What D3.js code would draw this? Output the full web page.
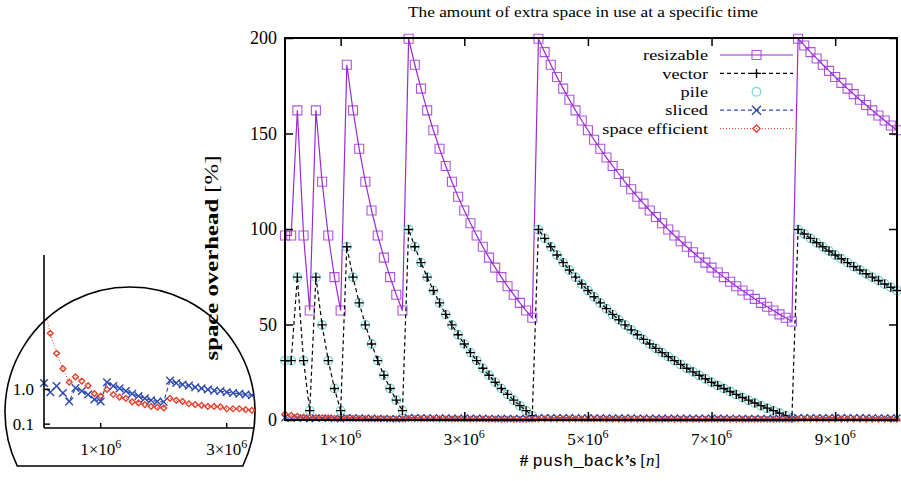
<!DOCTYPE html>
<html lang="en">
<head>
  <meta charset="UTF-8">
  <title>Space overhead</title>
  <style>
    * { margin: 0; padding: 0; box-sizing: border-box; }
    body { background: #fff; }
    svg { display: block; }
    svg text { font-family: "Liberation Serif", "Times New Roman", serif; fill: #000; }
  </style>
</head>
<body>
  <div id="chart"></div>

  <script src="https://d3js.org/d3.v7.min.js"></script>
  <script>
// number of push_back's, in millions (one sample every 100000)
const pushBacksM = [
  0.1, 0.2, 0.3, 0.4, 0.5, 0.6, 0.7, 0.8, 0.9, 1.0,
  1.1, 1.2, 1.3, 1.4, 1.5, 1.6, 1.7, 1.8, 1.9, 2.0,
  2.1, 2.2, 2.3, 2.4, 2.5, 2.6, 2.7, 2.8, 2.9, 3.0,
  3.1, 3.2, 3.3, 3.4, 3.5, 3.6, 3.7, 3.8, 3.9, 4.0,
  4.1, 4.2, 4.3, 4.4, 4.5, 4.6, 4.7, 4.8, 4.9, 5.0,
  5.1, 5.2, 5.3, 5.4, 5.5, 5.6, 5.7, 5.8, 5.9, 6.0,
  6.1, 6.2, 6.3, 6.4, 6.5, 6.6, 6.7, 6.8, 6.9, 7.0,
  7.1, 7.2, 7.3, 7.4, 7.5, 7.6, 7.7, 7.8, 7.9, 8.0,
  8.1, 8.2, 8.3, 8.4, 8.5, 8.6, 8.7, 8.8, 8.9, 9.0,
  9.1, 9.2, 9.3, 9.4, 9.5, 9.6, 9.7, 9.8, 9.9, 10.0
];

// space overhead [%]
const resizable = [
  96.6, 96.6, 162.1, 96.6, 57.3, 162.1, 124.7, 96.6, 74.8, 57.3,
  186.0, 162.1, 142.0, 124.7, 109.7, 96.6, 85.0, 74.8, 65.6, 57.3,
  199.6, 186.0, 173.5, 162.1, 151.7, 142.0, 133.0, 124.7, 116.9, 109.7,
  103.0, 96.6, 90.7, 85.0, 79.8, 74.8, 70.0, 65.6, 61.3, 57.3,
  53.5, 199.6, 192.6, 186.0, 179.6, 173.5, 167.7, 162.1, 156.8, 151.7,
  146.7, 142.0, 137.4, 133.0, 128.8, 124.7, 120.8, 116.9, 113.3, 109.7,
  106.3, 103.0, 99.7, 96.6, 93.6, 90.7, 87.8, 85.0, 82.4, 79.8,
  77.2, 74.8, 72.4, 70.0, 67.8, 65.6, 63.4, 61.3, 59.3, 57.3,
  55.3, 53.5, 51.6, 199.6, 196.1, 192.6, 189.3, 186.0, 182.8, 179.6,
  176.5, 173.5, 170.6, 167.7, 164.9, 162.1, 159.4, 156.8, 154.2, 151.7
];

const vector = [
  31.1, 31.1, 74.8, 31.1, 4.9, 74.8, 49.8, 31.1, 16.5, 4.9,
  90.7, 74.8, 61.3, 49.8, 39.8, 31.1, 23.4, 16.5, 10.4, 4.9,
  99.7, 90.7, 82.4, 74.8, 67.8, 61.3, 55.3, 49.8, 44.6, 39.8,
  35.3, 31.1, 27.1, 23.4, 19.8, 16.5, 13.4, 10.4, 7.5, 4.9,
  2.3, 99.7, 95.1, 90.7, 86.4, 82.4, 78.5, 74.8, 71.2, 67.8,
  64.5, 61.3, 58.3, 55.3, 52.5, 49.8, 47.2, 44.6, 42.2, 39.8,
  37.5, 35.3, 33.2, 31.1, 29.1, 27.1, 25.2, 23.4, 21.6, 19.8,
  18.1, 16.5, 14.9, 13.4, 11.8, 10.4, 8.9, 7.5, 6.2, 4.9,
  3.6, 2.3, 1.1, 99.7, 97.4, 95.1, 92.8, 90.7, 88.5, 86.4,
  84.4, 82.4, 80.4, 78.5, 76.6, 74.8, 73.0, 71.2, 69.5, 67.8
];

const pile = [
  31.1, 31.1, 74.8, 31.1, 4.9, 74.8, 49.8, 31.1, 16.5, 4.9,
  90.7, 74.8, 61.3, 49.8, 39.8, 31.1, 23.4, 16.5, 10.4, 4.9,
  99.7, 90.7, 82.4, 74.8, 67.8, 61.3, 55.3, 49.8, 44.6, 39.8,
  35.3, 31.1, 27.1, 23.4, 19.8, 16.5, 13.4, 10.4, 7.5, 4.9,
  2.3, 99.7, 95.1, 90.7, 86.4, 82.4, 78.5, 74.8, 71.2, 67.8,
  64.5, 61.3, 58.3, 55.3, 52.5, 49.8, 47.2, 44.6, 42.2, 39.8,
  37.5, 35.3, 33.2, 31.1, 29.1, 27.1, 25.2, 23.4, 21.6, 19.8,
  18.1, 16.5, 14.9, 13.4, 11.8, 10.4, 8.9, 7.5, 6.2, 4.9,
  3.6, 2.3, 1.1, 99.7, 97.4, 95.1, 92.8, 90.7, 88.5, 86.4,
  84.4, 82.4, 80.4, 78.5, 76.6, 74.8, 73.0, 71.2, 69.5, 67.8
];

const sliced = [
  1.17, 0.93, 1.09, 0.91, 0.69, 1.04, 0.96, 0.87, 0.74, 0.69,
  1.19, 1.09, 1.03, 0.96, 0.89, 0.83, 0.77, 0.72, 0.69, 0.68,
  1.23, 1.17, 1.13, 1.10, 1.06, 1.03, 1.00, 0.97, 0.96, 0.93,
  0.91, 0.89, 0.87, 0.85, 0.84, 0.82, 0.81, 0.79, 0.78, 0.77,
  0.75, 1.22, 1.20, 1.18, 1.16, 1.14, 1.12, 1.11, 1.09, 1.08,
  1.06, 1.05, 1.03, 1.02, 1.01, 1.00, 0.99, 0.98, 0.97, 0.96,
  0.95, 0.94, 0.93, 0.92, 0.91, 0.90, 0.90, 0.89, 0.88, 0.87,
  0.87, 0.86, 0.85, 0.85, 0.84, 0.83, 0.83, 0.82, 0.82, 0.81,
  0.81, 0.80, 0.80, 1.21, 1.20, 1.19, 1.18, 1.17, 1.16, 1.16,
  1.15, 1.14, 1.13, 1.13, 1.12, 1.11, 1.11, 1.10, 1.10, 1.09
];

const spaceEfficient = [
  3.20, 2.46, 1.94, 1.54, 1.19, 1.33, 1.22, 1.10, 0.89, 0.83,
  1.00, 0.87, 0.80, 0.77, 0.68, 0.65, 0.61, 0.56, 0.54, 0.52,
  0.77, 0.72, 0.69, 0.63, 0.61, 0.59, 0.56, 0.56, 0.55, 0.50,
  0.50, 0.50, 0.48, 0.46, 0.45, 0.44, 0.43, 0.43, 0.42, 0.41,
  0.40, 0.56, 0.55, 0.54, 0.53, 0.52, 0.51, 0.50, 0.50, 0.49,
  0.48, 0.48, 0.47, 0.46, 0.46, 0.45, 0.45, 0.44, 0.44, 0.43,
  0.43, 0.42, 0.42, 0.42, 0.41, 0.41, 0.40, 0.40, 0.40, 0.39,
  0.39, 0.39, 0.38, 0.38, 0.38, 0.37, 0.37, 0.37, 0.37, 0.36,
  0.36, 0.36, 0.36, 0.50, 0.49, 0.49, 0.48, 0.48, 0.47, 0.47,
  0.46, 0.46, 0.45, 0.45, 0.45, 0.44, 0.44, 0.44, 0.43, 0.43
];

const yTicks = [0, 50, 100, 150, 200];
const xTicksM = [1, 3, 5, 7, 9];
const insetYTicks = [0.1, 1.0];
const insetXTicksM = [1, 3];
const seriesNames = ["resizable", "vector", "pile", "sliced", "space efficient"];

var SERIF = "'Liberation Serif', 'Times New Roman', serif";
var W = 901, H = 481;
var plot = {left: 285, right: 897, top: 38, bottom: 420};

var svg = d3.select("#chart").append("svg")
  .attr("width", W)
  .attr("height", H)
  .attr("font-family", SERIF);

var x = d3.scaleLinear().domain([0.1, 10]).range([plot.left, plot.right]);
var y = d3.scaleLinear().domain([0, 200]).range([plot.bottom, plot.top]);

// series styles
var styles = {
  "resizable":       {color: "#9a2bd4", dash: null,  marker: "square"},
  "vector":          {color: "#000000", dash: "4,3", marker: "plus"},
  "pile":            {color: "#7fd6d6", dash: null,  marker: "circle", noLine: true},
  "sliced":          {color: "#2c48b0", dash: "4,3", marker: "cross"},
  "space efficient": {color: "#e8412c", dash: "1,2", marker: "diamond"}
};

function markerPath(type, s) {
  if (type == "square") return `M${-s},${-s}h${2*s}v${2*s}h${-2*s}Z`;
  if (type == "plus") return `M${-s},0H${s}M0,${-s}V${s}`;
  if (type == "cross") return `M${-s},${-s}L${s},${s}M${-s},${s}L${s},${-s}`;
  if (type == "diamond") return `M0,${-s}L${s},0L0,${s}L${-s},0Z`;
  return "";
}

function drawMarkers(g, pts, st, sx, sy, size) {
  if (st.marker == "circle") {
    g.selectAll(null).data(pts).enter().append("circle")
      .attr("cx", d => sx(d[0])).attr("cy", d => sy(d[1]))
      .attr("r", size)
      .attr("fill", "none").attr("stroke", st.color).attr("stroke-width", 1.3);
  } else {
    g.selectAll(null).data(pts).enter().append("path")
      .attr("transform", d => `translate(${sx(d[0])},${sy(d[1])})`)
      .attr("d", markerPath(st.marker, st.marker == "diamond" ? size * 0.8 : size))
      .attr("fill", "none").attr("stroke", st.color)
      .attr("stroke-width", st.marker == "square" ? 1.1 : 1.4)
      .attr("stroke-opacity", st.marker == "square" ? 0.8 : 1);
  }
}

function drawSeries(g, name, values, sx, sy, size) {
  var st = styles[name];
  var pts = pushBacksM.map((m, i) => [m, values[i]]);
  if (!st.noLine) {
    var line = d3.line().x(d => sx(d[0])).y(d => sy(d[1]));
    g.append("path")
      .datum(pts)
      .attr("d", line)
      .attr("fill", "none")
      .attr("stroke", st.color)
      .attr("stroke-width", name == "space efficient" ? 1 : 1.2)
      .attr("stroke-dasharray", st.dash);
  }
  drawMarkers(g, pts, st, sx, sy, size);
}

// ---- main plot data
var main = svg.append("g");
drawSeries(main, "resizable", resizable, x, y, 4.5);
drawSeries(main, "pile", pile, x, y, 4.3);
drawSeries(main, "vector", vector, x, y, 4.5);
drawSeries(main, "sliced", sliced, x, y, 3.5);
drawSeries(main, "space efficient", spaceEfficient, x, y, 3.5);

// ---- axes (gnuplot style: ticks inside on all 4 sides)
function styleAxis(g) {
  g.select(".domain").remove();
  g.selectAll(".tick line").attr("stroke", "#000").attr("stroke-width", 1.5);
  g.attr("font-family", SERIF).attr("font-size", null);
}

svg.append("g")
  .attr("transform", `translate(${plot.left},0)`)
  .call(d3.axisLeft(y).tickValues(yTicks).tickSize(-8).tickPadding(8))
  .call(styleAxis)
  .selectAll("text")
    .style("font-size", "18px")
    .attr("fill", "#000");

svg.append("g")
  .attr("transform", `translate(${plot.right},0)`)
  .call(d3.axisRight(y).tickValues(yTicks).tickSize(-8).tickFormat(""))
  .call(styleAxis);

svg.append("g")
  .attr("transform", `translate(0,${plot.bottom})`)
  .call(d3.axisBottom(x).tickValues(xTicksM).tickSize(-8).tickFormat(""))
  .call(styleAxis);

svg.append("g")
  .attr("transform", `translate(0,${plot.top})`)
  .call(d3.axisTop(x).tickValues(xTicksM).tickSize(-8).tickFormat(""))
  .call(styleAxis);

// x tick labels like 1x10^6
function sciLabel(sel) {
  sel.append("tspan").text(d => d + "\u00d710");
  sel.append("tspan").attr("dy", -7).style("font-size", "12px").text("6");
}

svg.append("g").selectAll("text")
  .data(xTicksM).enter().append("text")
    .attr("x", d => x(d))
    .attr("y", plot.bottom + 25)
    .attr("text-anchor", "middle")
    .style("font-size", "17px")
    .call(sciLabel);

// frame
svg.append("rect")
  .attr("x", plot.left).attr("y", plot.top)
  .attr("width", plot.right - plot.left)
  .attr("height", plot.bottom - plot.top)
  .attr("fill", "none")
  .attr("stroke", "#000")
  .attr("stroke-width", 2);

// title
svg.append("text")
  .attr("x", 583).attr("y", 17)
  .attr("text-anchor", "middle")
  .attr("textLength", 350)
  .attr("lengthAdjust", "spacingAndGlyphs")
  .style("font-size", "15px")
  .text("The amount of extra space in use at a specific time");

// y label
var ylab = svg.append("text")
  .attr("transform", "translate(218,258) rotate(-90)")
  .attr("text-anchor", "middle")
  .attr("textLength", 205)
  .attr("lengthAdjust", "spacingAndGlyphs")
  .style("font-size", "18px");
ylab.append("tspan").style("font-weight", "bold").text("space overhead");
ylab.append("tspan").text(" [%]");

// x label
var xlab = svg.append("text")
  .attr("x", 590).attr("y", 466)
  .attr("text-anchor", "middle")
  .style("font-size", "17px");
xlab.append("tspan").style("font-weight", "bold").text("#");
xlab.append("tspan").text(" ");
xlab.append("tspan").style("font-family", "'Liberation Mono', 'Courier New', monospace").text("push_back");
xlab.append("tspan").style("font-weight", "bold").text("\u2019s");
xlab.append("tspan").text(" [");
xlab.append("tspan").style("font-style", "italic").text("n");
xlab.append("tspan").text("]");

// legend
var legend = svg.append("g");
seriesNames.forEach(function(name, i) {
  var st = styles[name];
  var ly = 55 + i * 18.4;
  legend.append("text")
    .attr("transform", `translate(708,${ly}) scale(1.18,1)`)
    .attr("dy", "0.33em")
    .attr("text-anchor", "end")
    .style("font-size", "15.5px")
    .text(name);
  if (!st.noLine) {
    legend.append("line")
      .attr("x1", 720).attr("x2", 793)
      .attr("y1", ly).attr("y2", ly)
      .attr("stroke", st.color)
      .attr("stroke-width", name == "space efficient" ? 1 : 1.2)
      .attr("stroke-dasharray", st.dash);
  }
  var one = d3.scaleLinear().domain([0, 1]).range([756.5, 757.5]);
  var oneY = d3.scaleLinear().domain([0, 1]).range([ly, ly + 1]);
  drawMarkers(legend, [[0, 0]], st, one, oneY, name == "pile" ? 4.3 : 4.5);
});

// ---- inset (magnified bottom of the plot)
var inset = {cx: 130, cy: 412, r: 125, chord: 466, left: 44, bottom: 428};
var xi = d3.scaleLinear().domain([0.1, 3.5]).range([inset.left, inset.left + 3.4 * 63]);
var yi = d3.scaleLinear().domain([0, 1]).range([inset.bottom, 389.5]);

svg.append("clipPath").attr("id", "lens")
  .append("circle")
  .attr("cx", inset.cx).attr("cy", inset.cy).attr("r", inset.r);

var dx = Math.sqrt(inset.r * inset.r - Math.pow(inset.chord - inset.cy, 2));
svg.append("path")
  .attr("d", `M${inset.cx - dx},${inset.chord} A${inset.r},${inset.r} 0 1,1 ${inset.cx + dx},${inset.chord} Z`)
  .attr("fill", "none")
  .attr("stroke", "#000")
  .attr("stroke-width", 1.6);

var ig = svg.append("g").attr("clip-path", "url(#lens)");
ig.append("line")
  .attr("x1", inset.left).attr("x2", 300)
  .attr("y1", inset.bottom).attr("y2", inset.bottom)
  .attr("stroke", "#000").attr("stroke-width", 1.6);
ig.selectAll(null).data(insetXTicksM).enter().append("line")
  .attr("x1", d => xi(d)).attr("x2", d => xi(d))
  .attr("y1", inset.bottom).attr("y2", inset.bottom - 5)
  .attr("stroke", "#000").attr("stroke-width", 1.4);
drawSeries(ig, "space efficient", spaceEfficient, xi, yi, 3.6);
drawSeries(ig, "sliced", sliced, xi, yi, 3.8);

svg.append("line")
  .attr("x1", inset.left).attr("x2", inset.left)
  .attr("y1", 255).attr("y2", inset.bottom)
  .attr("stroke", "#000").attr("stroke-width", 1.6);
svg.selectAll(null).data(insetYTicks).enter().append("line")
  .attr("x1", inset.left).attr("x2", inset.left + 6)
  .attr("y1", d => yi(d)).attr("y2", d => yi(d))
  .attr("stroke", "#000").attr("stroke-width", 1.4);
svg.selectAll(null).data(insetYTicks).enter().append("text")
  .attr("x", 34).attr("y", d => yi(d))
  .attr("dy", "0.35em")
  .attr("text-anchor", "end")
  .style("font-size", "17px")
  .text(d => d.toFixed(1));
svg.append("g").selectAll("text")
  .data(insetXTicksM).enter().append("text")
    .attr("x", d => xi(d))
    .attr("y", 455)
    .attr("text-anchor", "middle")
    .style("font-size", "17px")
    .call(sciLabel);
  </script>
</body>
</html>
